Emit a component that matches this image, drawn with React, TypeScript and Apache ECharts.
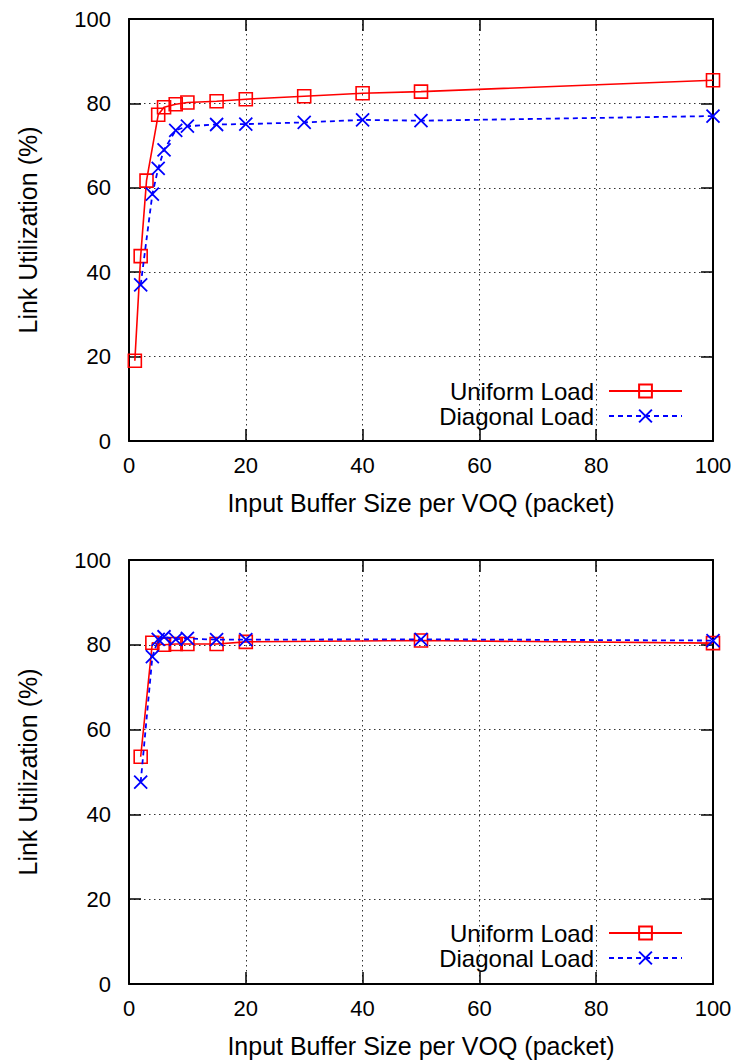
import React, { useEffect, useRef } from "react";
import * as echarts from "echarts";

// Top chart data
const topUniformX = [1, 2, 3, 5, 6, 8, 10, 15, 20, 30, 40, 50, 100];
const topUniformY = [19.0, 43.8, 61.7, 77.3, 79.1, 79.8, 80.2, 80.5, 81.0, 81.7, 82.4, 82.8, 85.5];
const topDiagonalX = [2, 4, 5, 6, 8, 10, 15, 20, 30, 40, 50, 100];
const topDiagonalY = [37.0, 58.5, 64.6, 69.0, 73.6, 74.6, 75.0, 75.1, 75.5, 76.1, 75.9, 77.0];

// Bottom chart data
const botUniformX = [2, 4, 6, 8, 10, 15, 20, 50, 100];
const botUniformY = [53.6, 80.5, 80.0, 80.2, 80.2, 80.2, 80.7, 81.0, 80.4];
const botDiagonalX = [2, 4, 5, 6, 8, 10, 15, 20, 50, 100];
const botDiagonalY = [47.6, 77.2, 81.3, 81.9, 81.3, 81.5, 81.2, 81.2, 81.3, 81.0];

const seriesNames = ["Uniform Load", "Diagonal Load"];
const xTicks = [0, 20, 40, 60, 80, 100];
const yTicks = [0, 20, 40, 60, 80, 100];
const xTitle = "Input Buffer Size per VOQ (packet)";
const yTitle = "Link Utilization (%)";

const FONT = "'Liberation Sans', Arial, Helvetica, sans-serif";

const zip = (xs: number[], ys: number[]) => xs.map((x, i) => [x, ys[i]]);

export default function App() {
  const ref = useRef<HTMLDivElement>(null);

  useEffect(() => {
    if (!ref.current) return;
    const chart = echarts.init(ref.current, undefined, { renderer: "svg" });

    const grids = [
      { left: 129, right: 30, top: 19, height: 422 },
      { left: 129, right: 30, top: 560, height: 424 },
    ];

    const axisLine = { show: true, onZero: false, lineStyle: { color: "#000", width: 2 } };
    const tick = { show: true, inside: true, length: 12, lineStyle: { color: "#000", width: 1.5 } };
    const split = { show: true, lineStyle: { color: "#333", width: 1, type: [1.5, 3.5] } };
    const label = { color: "#000", fontSize: 22, fontFamily: FONT };

    const xMin = xTicks[0];
    const xMax = xTicks[xTicks.length - 1];
    const xInt = xTicks[1] - xTicks[0];
    const yMin = yTicks[0];
    const yMax = yTicks[yTicks.length - 1];
    const yInt = yTicks[1] - yTicks[0];

    const xAxes: any[] = [];
    const yAxes: any[] = [];
    [0, 1].forEach((g) => {
      xAxes.push({
        type: "value",
        gridIndex: g,
        position: "bottom",
        min: xMin,
        max: xMax,
        interval: xInt,
        axisLine,
        axisTick: tick,
        splitLine: split,
        axisLabel: { ...label, margin: 13 },
        name: xTitle,
        nameLocation: "middle",
        nameGap: 49,
        nameTextStyle: { color: "#000", fontSize: 25, fontFamily: FONT },
      });
      xAxes.push({
        type: "value",
        gridIndex: g,
        position: "top",
        min: xMin,
        max: xMax,
        interval: xInt,
        axisLine,
        axisTick: tick,
        splitLine: { show: false },
        axisLabel: { show: false },
      });
      yAxes.push({
        type: "value",
        gridIndex: g,
        position: "left",
        min: yMin,
        max: yMax,
        interval: yInt,
        axisLine,
        axisTick: tick,
        splitLine: split,
        axisLabel: { ...label, margin: 18 },
        name: yTitle,
        nameLocation: "middle",
        nameGap: 89,
        nameTextStyle: { color: "#000", fontSize: 25, fontFamily: FONT },
      });
      yAxes.push({
        type: "value",
        gridIndex: g,
        position: "right",
        min: yMin,
        max: yMax,
        interval: yInt,
        axisLine,
        axisTick: tick,
        splitLine: { show: false },
        axisLabel: { show: false },
      });
    });

    const uniformStyle = (name: string, data: number[][], g: number) => ({
      type: "line",
      name,
      xAxisIndex: g * 2,
      yAxisIndex: g * 2,
      data,
      symbol: "path://M0,0H10V10H0Z",
      symbolSize: 13,
      symbolKeepAspect: true,
      showSymbol: true,
      itemStyle: { color: "rgba(0,0,0,0)", borderColor: "#ff0000", borderWidth: 1.6 },
      lineStyle: { color: "#ff0000", width: 1.6, type: "solid" },
      color: "#ff0000",
      z: 3,
    });
    const diagonalStyle = (name: string, data: number[][], g: number) => ({
      type: "line",
      name,
      xAxisIndex: g * 2,
      yAxisIndex: g * 2,
      data,
      symbol: "path://M0,0L10,10M10,0L0,10",
      symbolSize: 13,
      symbolKeepAspect: true,
      showSymbol: true,
      itemStyle: { color: "rgba(0,0,0,0)", borderColor: "#0000ff", borderWidth: 1.8 },
      lineStyle: { color: "#0000ff", width: 1.8, type: [5, 4] },
      color: "#0000ff",
      z: 4,
    });

    const series = [
      uniformStyle(seriesNames[0], zip(topUniformX, topUniformY), 0),
      diagonalStyle(seriesNames[1], zip(topDiagonalX, topDiagonalY), 0),
      uniformStyle(seriesNames[0], zip(botUniformX, botUniformY), 1),
      diagonalStyle(seriesNames[1], zip(botDiagonalX, botDiagonalY), 1),
    ];

    const legendRow = (name: string, top: number) => ({
      show: true,
      data: [{ name }],
      right: 60,
      top,
      padding: 0,
      align: "right",
      orient: "vertical",
      itemWidth: 73,
      itemHeight: 16,
      selectedMode: false,
      textStyle: {
        color: "#000",
        fontSize: 24,
        fontFamily: FONT,
        lineHeight: 22,
        padding: [0, 10, 0, 0],
      },
    });

    chart.setOption({
      animation: false,
      backgroundColor: "#fff",
      grid: grids,
      xAxis: xAxes,
      yAxis: yAxes,
      series,
      legend: [
        legendRow(seriesNames[0], 379),
        legendRow(seriesNames[1], 404),
        legendRow(seriesNames[0], 921),
        legendRow(seriesNames[1], 946),
      ],
    });

    return () => chart.dispose();
  }, []);

  return (
    <div
      ref={ref}
      style={{ position: "absolute", left: 0, top: 0, width: 743, height: 1064, background: "#fff" }}
    />
  );
}
